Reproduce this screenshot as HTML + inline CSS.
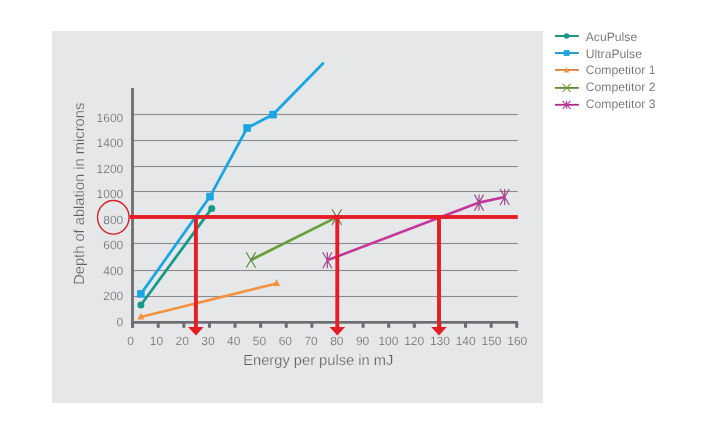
<!DOCTYPE html>
<html><head><meta charset="utf-8"><style>
html,body{margin:0;padding:0;background:#fff;width:709px;height:421px;overflow:hidden}
svg{display:block;will-change:transform;text-rendering:geometricPrecision;font-family:"Liberation Sans",sans-serif}
.lb{font-size:12px;fill:#5d5e62;stroke:#e6e7e8;stroke-width:0.25px}
.tt{font-size:14.7px;fill:#5d5e62;stroke:#e6e7e8;stroke-width:0.25px}
.lg{font-size:12.2px;fill:#5d5e62;stroke:#fff;stroke-width:0.15px}
</style></head><body>
<svg width="709" height="421" viewBox="0 0 709 421">
<rect x="52" y="31" width="491" height="372" fill="#e6e7e8"/>
<rect x="133" y="113.95" width="384.8" height="1.1" fill="#8a8b8e"/>
<rect x="133" y="139.95" width="384.8" height="1.1" fill="#8a8b8e"/>
<rect x="133" y="165.95" width="384.8" height="1.1" fill="#8a8b8e"/>
<rect x="133" y="190.95" width="384.8" height="1.1" fill="#8a8b8e"/>
<rect x="133" y="242.95" width="384.8" height="1.1" fill="#8a8b8e"/>
<rect x="133" y="269.95" width="384.8" height="1.1" fill="#8a8b8e"/>
<rect x="133" y="295.95" width="384.8" height="1.1" fill="#8a8b8e"/>
<rect x="131.1" y="88" width="2.8" height="239.8" fill="#6d6e71"/>
<rect x="131.1" y="321" width="386.8" height="2.7" fill="#6d6e71"/>
<rect x="131.10" y="322" width="3" height="5.8" fill="#6d6e71"/>
<rect x="156.71" y="322" width="3" height="5.8" fill="#6d6e71"/>
<rect x="182.32" y="322" width="3" height="5.8" fill="#6d6e71"/>
<rect x="207.93" y="322" width="3" height="5.8" fill="#6d6e71"/>
<rect x="233.54" y="322" width="3" height="5.8" fill="#6d6e71"/>
<rect x="259.15" y="322" width="3" height="5.8" fill="#6d6e71"/>
<rect x="284.76" y="322" width="3" height="5.8" fill="#6d6e71"/>
<rect x="310.37" y="322" width="3" height="5.8" fill="#6d6e71"/>
<rect x="335.98" y="322" width="3" height="5.8" fill="#6d6e71"/>
<rect x="361.59" y="322" width="3" height="5.8" fill="#6d6e71"/>
<rect x="387.20" y="322" width="3" height="5.8" fill="#6d6e71"/>
<rect x="412.81" y="322" width="3" height="5.8" fill="#6d6e71"/>
<rect x="438.42" y="322" width="3" height="5.8" fill="#6d6e71"/>
<rect x="464.03" y="322" width="3" height="5.8" fill="#6d6e71"/>
<rect x="489.64" y="322" width="3" height="5.8" fill="#6d6e71"/>
<rect x="515.25" y="322" width="3" height="5.8" fill="#6d6e71"/>
<text x="123.3" y="121.70" text-anchor="end" class="lb">1600</text>
<text x="123.3" y="147.20" text-anchor="end" class="lb">1400</text>
<text x="123.3" y="172.70" text-anchor="end" class="lb">1200</text>
<text x="123.3" y="198.20" text-anchor="end" class="lb">1000</text>
<text x="123.3" y="223.70" text-anchor="end" class="lb">800</text>
<text x="123.3" y="249.20" text-anchor="end" class="lb">600</text>
<text x="123.3" y="274.70" text-anchor="end" class="lb">400</text>
<text x="123.3" y="300.20" text-anchor="end" class="lb">200</text>
<text x="123.3" y="325.70" text-anchor="end" class="lb">0</text>
<text x="130.70" y="344.8" text-anchor="middle" class="lb">0</text>
<text x="156.47" y="344.8" text-anchor="middle" class="lb">10</text>
<text x="182.24" y="344.8" text-anchor="middle" class="lb">20</text>
<text x="208.01" y="344.8" text-anchor="middle" class="lb">30</text>
<text x="233.78" y="344.8" text-anchor="middle" class="lb">40</text>
<text x="259.55" y="344.8" text-anchor="middle" class="lb">50</text>
<text x="285.32" y="344.8" text-anchor="middle" class="lb">60</text>
<text x="311.09" y="344.8" text-anchor="middle" class="lb">70</text>
<text x="336.86" y="344.8" text-anchor="middle" class="lb">80</text>
<text x="362.63" y="344.8" text-anchor="middle" class="lb">90</text>
<text x="388.40" y="344.8" text-anchor="middle" class="lb">100</text>
<text x="414.17" y="344.8" text-anchor="middle" class="lb">120</text>
<text x="439.94" y="344.8" text-anchor="middle" class="lb">130</text>
<text x="465.71" y="344.8" text-anchor="middle" class="lb">140</text>
<text x="491.48" y="344.8" text-anchor="middle" class="lb">150</text>
<text x="517.25" y="344.8" text-anchor="middle" class="lb">160</text>
<text x="318.3" y="365.4" text-anchor="middle" class="tt">Energy per pulse in mJ</text>
<text transform="translate(84,193.8) rotate(-90)" text-anchor="middle" class="tt">Depth of ablation in microns</text>
<polyline points="140.9,305 211.7,208.4" fill="none" stroke="#17998a" stroke-width="2.7" stroke-linejoin="miter"/>
<circle cx="140.9" cy="305" r="3.5" fill="#17998a"/>
<circle cx="211.7" cy="208.4" r="3.5" fill="#17998a"/>
<polyline points="140.9,293.9 210,196.6 247.1,128 273,114.6 323.7,62.7" fill="none" stroke="#1ba6e2" stroke-width="2.8" stroke-linejoin="miter"/>
<rect x="137.10" y="290.10" width="7.6" height="7.6" fill="#1ba6e2"/>
<rect x="206.20" y="192.80" width="7.6" height="7.6" fill="#1ba6e2"/>
<rect x="243.30" y="124.20" width="7.6" height="7.6" fill="#1ba6e2"/>
<rect x="269.20" y="110.80" width="7.6" height="7.6" fill="#1ba6e2"/>
<polyline points="140.8,317 276.6,283.4" fill="none" stroke="#f3923f" stroke-width="2.6" stroke-linejoin="miter"/>
<path d="M137.40,319.60 L140.80,312.70 L144.20,319.60 Z" fill="#f3923f"/>
<path d="M273.20,286.00 L276.60,279.10 L280.00,286.00 Z" fill="#f3923f"/>
<polyline points="250.9,260 336.8,217.1" fill="none" stroke="#6c9d3c" stroke-width="2.7" stroke-linejoin="miter"/>
<path d="M246.10,252.20 L255.70,267.80 M255.70,252.20 L246.10,267.80" stroke="#5a8540" stroke-width="1.15" fill="none"/>
<path d="M332.00,209.30 L341.60,224.90 M341.60,209.30 L332.00,224.90" stroke="#5a8540" stroke-width="1.15" fill="none"/>
<polyline points="327.3,260.3 479,202.6 504.7,197" fill="none" stroke="#c4379a" stroke-width="2.7" stroke-linejoin="miter"/>
<path d="M322.70,252.30 L331.90,268.30 M331.90,252.30 L322.70,268.30 M327.30,252.30 L327.30,268.30" stroke="#9e4388" stroke-width="1.15" fill="none"/>
<path d="M474.40,194.60 L483.60,210.60 M483.60,194.60 L474.40,210.60 M479.00,194.60 L479.00,210.60" stroke="#9e4388" stroke-width="1.15" fill="none"/>
<path d="M500.10,189.00 L509.30,205.00 M509.30,189.00 L500.10,205.00 M504.70,189.00 L504.70,205.00" stroke="#9e4388" stroke-width="1.15" fill="none"/>
<ellipse cx="113.3" cy="217.3" rx="15.8" ry="16.8" fill="none" stroke="#d4212b" stroke-width="1.35"/>
<rect x="129.5" y="215.05" width="388.3" height="3.9" fill="#e41e26"/>
<rect x="193.95" y="215.05" width="3.9" height="113" fill="#e41e26"/>
<path d="M188.10,327 L203.70,327 L195.90,335.5 Z" fill="#e41e26"/>
<rect x="335.35" y="215.05" width="3.9" height="113" fill="#e41e26"/>
<path d="M329.50,327 L345.10,327 L337.30,335.5 Z" fill="#e41e26"/>
<rect x="437.05" y="215.05" width="3.9" height="113" fill="#e41e26"/>
<path d="M431.20,327 L446.80,327 L439.00,335.5 Z" fill="#e41e26"/>
<rect x="555" y="35.10" width="23.8" height="1.8" fill="#17998a"/>
<rect x="555" y="35.10" width="23.8" height="1.8" fill="#000" fill-opacity="0.12"/>
<circle cx="566.6" cy="36.0" r="2.8" fill="#17998a"/>
<text x="585.7" y="41.30" class="lg">AcuPulse</text>
<rect x="555" y="52.10" width="23.8" height="1.8" fill="#1ba6e2"/>
<rect x="555" y="52.10" width="23.8" height="1.8" fill="#000" fill-opacity="0.12"/>
<rect x="563.70" y="50.10" width="5.8" height="5.8" fill="#1ba6e2"/>
<text x="585.7" y="57.80" class="lg">UltraPulse</text>
<rect x="555" y="69.00" width="23.8" height="1.8" fill="#f3923f"/>
<rect x="555" y="69.00" width="23.8" height="1.8" fill="#000" fill-opacity="0.12"/>
<path d="M563.90,72.50 L566.60,67.30 L569.30,72.50 Z" fill="#f3923f"/>
<text x="585.7" y="73.85" class="lg">Competitor 1</text>
<rect x="555" y="87.00" width="23.8" height="1.8" fill="#6c9d3c"/>
<rect x="555" y="87.00" width="23.8" height="1.8" fill="#000" fill-opacity="0.12"/>
<path d="M562.60,83.90 L570.60,91.90 M570.60,83.90 L562.60,91.90" stroke="#6c9d3c" stroke-width="1.1" fill="none"/>
<text x="585.7" y="90.70" class="lg">Competitor 2</text>
<rect x="555" y="103.90" width="23.8" height="1.8" fill="#c4379a"/>
<rect x="555" y="103.90" width="23.8" height="1.8" fill="#000" fill-opacity="0.12"/>
<path d="M562.60,100.80 L570.60,108.80 M570.60,100.80 L562.60,108.80 M566.60,100.80 L566.60,108.80" stroke="#c4379a" stroke-width="1.1" fill="none"/>
<text x="585.7" y="107.70" class="lg">Competitor 3</text>
</svg>
</body></html>
